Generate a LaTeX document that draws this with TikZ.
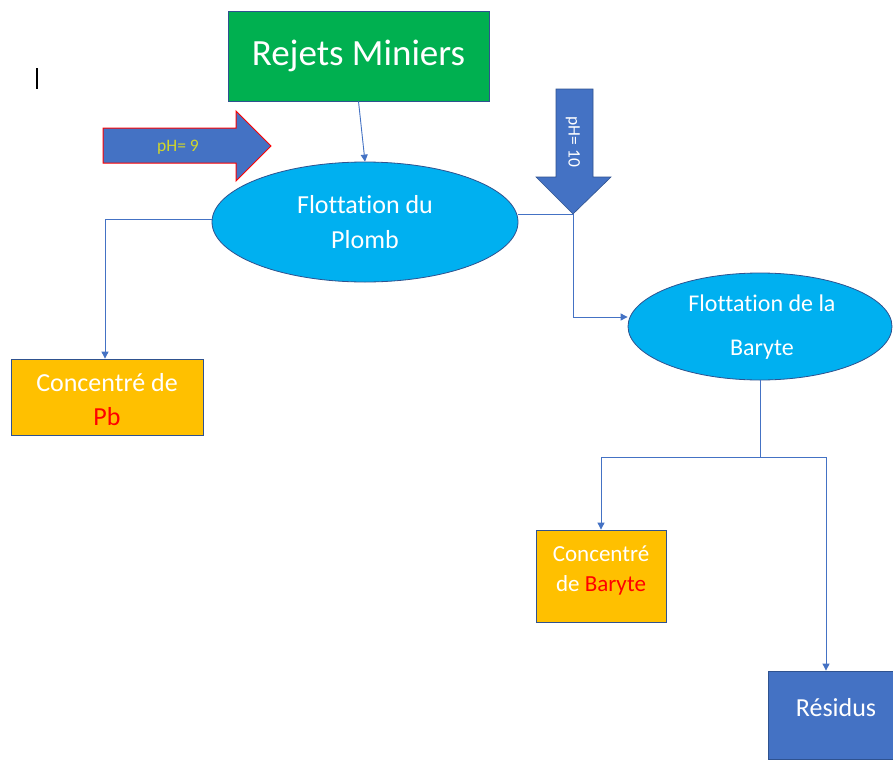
\documentclass[tikz,border=0pt]{standalone}
\usepackage{fontspec}
\setmainfont{Carlito}[Ligatures=NoCommon]
\usetikzlibrary{shapes.geometric,arrows.meta}
\definecolor{accblue}{HTML}{4472C4}
\definecolor{edgeblue}{HTML}{2F528F}
\definecolor{procblue}{HTML}{00B0F0}
\definecolor{mingreen}{HTML}{00B050}
\definecolor{concgold}{HTML}{FFC000}
\definecolor{phyellow}{HTML}{D2D62A}
\definecolor{barred}{HTML}{FF0000}
\tikzset{
  proc/.style={ellipse, draw=edgeblue, line width=0.8pt, fill=procblue,
    inner sep=0pt},
  conc/.style={rectangle, draw=edgeblue, line width=0.8pt, fill=concgold,
    inner sep=0pt},
  label text/.style={text=white, align=center, inner sep=0pt},
  flow/.style={draw=accblue, line width=0.9pt, -{Triangle[length=7pt,width=7pt]}},
  link/.style={draw=accblue, line width=0.9pt},
  fatarrow/.style={fill=accblue, line width=1pt}
}
\begin{document}
\begin{tikzpicture}[x=1pt,y=-1pt]
\useasboundingbox (0,0) rectangle (893,760);
\fill[white] (0,0) rectangle (893,760);

% text cursor
\draw[black, line width=1.3pt] (37,68) -- (37,89);

% feed
\node[rectangle, draw=edgeblue, line width=0.8pt, fill=mingreen, text=white,
  minimum width=261pt, minimum height=90pt, inner sep=0pt,
  font=\fontsize{37}{40}\selectfont] (rejets) at (358.5,56) {Rejets Miniers};

% lead flotation
\node[proc, minimum width=306pt, minimum height=120pt] (plomb) at (365,222) {};
\node[label text, font=\fontsize{26}{35}\selectfont] (plombtxt) at (365,222.5)
  {Flottation du\\Plomb};

% barite flotation
\node[proc, minimum width=264pt, minimum height=107pt] (baryte) at (760,326.5) {};
\node[label text, font=\fontsize{24}{44}\selectfont] (barytetxt) at (762,327)
  {Flottation de la\\Baryte};

% products
\node[conc, minimum width=192pt, minimum height=76pt] (pb) at (107,397) {};
\node[label text, font=\fontsize{26}{34}\selectfont] (pbtxt) at (107,400)
  {Concentré de\\\textcolor{barred}{Pb}};
\node[conc, minimum width=130pt, minimum height=92pt] (cbaryte) at (601,576) {};
\node[label text, font=\fontsize{23}{30}\selectfont] (cbarytetxt) at (601,570)
  {Concentré\\de \textcolor{barred}{Baryte}};
\node[rectangle, draw=edgeblue, line width=0.8pt, fill=accblue,
  minimum width=125pt, minimum height=88pt, inner sep=0pt] (residus) at (830.5,715) {};
\node[label text, font=\fontsize{26}{30}\selectfont] (residustxt) at (836,708) {Résidus};

% pH = 9 arrow
\draw[fatarrow, draw=red] (103,128) -- (236,128) -- (236,111) -- (271,146)
  -- (236,181) -- (236,163) -- (103,163) -- cycle;
\node[text=phyellow, font=\fontsize{17.5}{18}\selectfont] (ph9) at (178,147) {pH= 9};

% pH = 10 arrow
\draw[fatarrow, draw=edgeblue, line width=0.6pt] (556,89) -- (593,89) -- (593,177)
  -- (611,177) -- (573,214) -- (536,177) -- (556,177) -- cycle;
\node[text=white, rotate=-90, font=\fontsize{17.5}{18}\selectfont] (ph10) at (573,142) {pH= 10};

% junction points
\coordinate (jleft) at (105,219);
\coordinate (jright) at (573,214);
\coordinate (jdown) at (573,317);
\coordinate (jsplit) at (760,457);
\coordinate (jbl) at (601,457);
\coordinate (jbr) at (826,457);

% connectors
\draw[flow] (rejets.south) -- (plomb.north);
\draw[flow] (plomb.west |- jleft) -- (jleft) -- (pb.north -| jleft);
\draw[link] (plomb.east |- jright) -- (jright);
\draw[flow] (jright) -- (jdown) -- (baryte.west |- jdown);
\draw[link] (baryte.south) -- (jsplit);
\draw[link] (jbl) -- (jbr);
\draw[flow] (jbl) -- (cbaryte.north -| jbl);
\draw[flow] (jbr) -- (residus.north -| jbr);
\end{tikzpicture}
\end{document}
